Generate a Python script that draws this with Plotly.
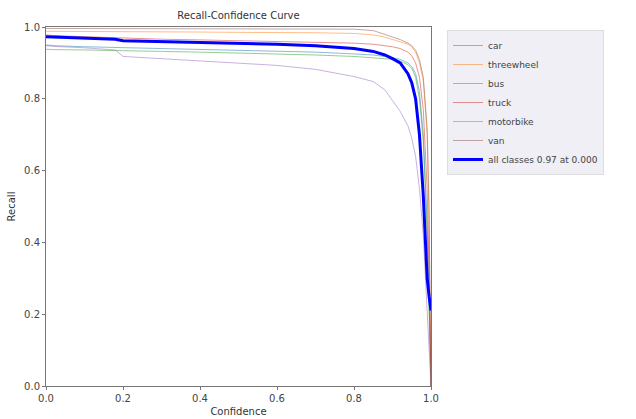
import plotly.graph_objects as go

conf = [0, 0.02, 0.1, 0.18, 0.2, 0.3, 0.4, 0.5, 0.6, 0.7, 0.8, 0.85, 0.88, 0.9,
        0.92, 0.94, 0.95, 0.96, 0.97, 0.98, 0.99, 0.995, 1.0]

car = [0.950, 0.948, 0.945, 0.943, 0.942, 0.940, 0.938, 0.936, 0.933, 0.930, 0.925, 0.922,
       0.918, 0.915, 0.910, 0.900, 0.890, 0.870, 0.820, 0.700, 0.450, 0.250, 0.0]
threewheel = [0.988, 0.988, 0.987, 0.987, 0.987, 0.986, 0.986, 0.985, 0.985, 0.984, 0.982, 0.978,
              0.972, 0.966, 0.960, 0.952, 0.945, 0.930, 0.900, 0.850, 0.700, 0.450, 0.0]
bus = [0.938, 0.937, 0.936, 0.935, 0.934, 0.932, 0.930, 0.928, 0.925, 0.922, 0.918, 0.915,
       0.912, 0.910, 0.905, 0.895, 0.885, 0.860, 0.800, 0.680, 0.420, 0.220, 0.0]
truck = [0.978, 0.976, 0.973, 0.970, 0.969, 0.966, 0.964, 0.962, 0.960, 0.958, 0.955, 0.952,
         0.948, 0.945, 0.940, 0.930, 0.920, 0.900, 0.860, 0.770, 0.550, 0.320, 0.0]
motorbike = [0.948, 0.946, 0.942, 0.936, 0.918, 0.912, 0.906, 0.900, 0.893, 0.882, 0.862, 0.848,
             0.825, 0.795, 0.765, 0.725, 0.690, 0.640, 0.550, 0.420, 0.200, 0.100, 0.0]
van = [0.996, 0.996, 0.996, 0.996, 0.996, 0.996, 0.996, 0.996, 0.996, 0.995, 0.994, 0.990,
       0.980, 0.972, 0.965, 0.955, 0.948, 0.935, 0.910, 0.860, 0.720, 0.500, 0.0]
all_classes = [0.973, 0.972, 0.969, 0.966, 0.962, 0.960, 0.957, 0.955, 0.952, 0.948, 0.940, 0.932,
               0.922, 0.912, 0.900, 0.870, 0.845, 0.800, 0.700, 0.530, 0.300, 0.250, 0.210]

class_names = ["car", "threewheel", "bus", "truck", "motorbike", "van"]
class_values = [car, threewheel, bus, truck, motorbike, van]
class_colors = ["#1f77b4", "#ff7f0e", "#2ca02c", "#d62728", "#9467bd", "#8c564b"]
all_label = "all classes 0.97 at 0.000"

fig = go.Figure()
for name, vals, col in zip(class_names, class_values, class_colors):
    fig.add_trace(go.Scatter(x=conf, y=vals, mode="lines", name=name,
                             line=dict(color=col, width=1), opacity=0.5))
fig.add_trace(go.Scatter(x=conf, y=all_classes, mode="lines", name=all_label,
                         line=dict(color="#0000ff", width=3)))

axis_common = dict(range=[0, 1], tickmode="linear", tick0=0, dtick=0.2, tickformat=".1f",
                   showgrid=False, zeroline=False, showline=True, mirror=True,
                   linecolor="#777777", linewidth=1, ticks="outside", ticklen=3,
                   tickcolor="#777777", tickfont=dict(size=10, color="#444444"),
                   automargin=False)

fig.update_layout(
    width=636, height=419,
    margin=dict(l=46, r=205, t=27, b=33),
    paper_bgcolor="white", plot_bgcolor="white",
    font=dict(family="DejaVu Sans", size=10, color="#333333"),
    title=dict(text="Recall-Confidence Curve", x=(46 + 431) / 2 / 636, xanchor="center",
               y=1 - 15 / 419, yanchor="middle", font=dict(size=10, color="#333333")),
    xaxis=dict(title=dict(text="Confidence", standoff=4, font=dict(size=10)), **axis_common),
    yaxis=dict(title=dict(text="Recall", standoff=6, font=dict(size=10)), **axis_common),
    legend=dict(x=(447 - 46) / 385, y=1 - 3 / 359, xanchor="left", yanchor="top",
                bgcolor="#efeff5", bordercolor="#dddddd", borderwidth=1,
                font=dict(size=9, color="#444444"), itemwidth=30),
    showlegend=True,
)

fig.write_html("out.html")
